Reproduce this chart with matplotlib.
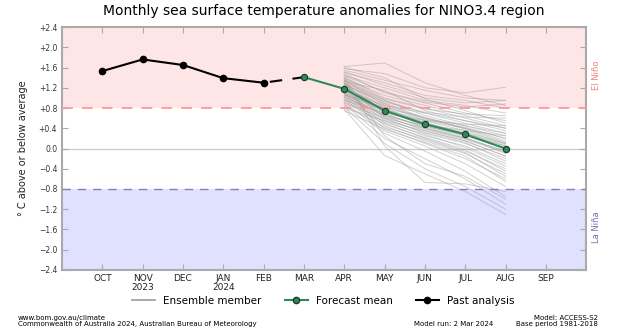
"""NINO3.4 monthly SST anomalies: past analysis, ensemble and forecast mean."""

import matplotlib

matplotlib.use("Agg")

import matplotlib.pyplot as plt
from matplotlib.lines import Line2D

months = ["OCT", "NOV\n2023", "DEC", "JAN\n2024", "FEB", "MAR",
          "APR", "MAY", "JUN", "JUL", "AUG", "SEP"]

past_months = [0, 1, 2, 3, 4]
past_values = [1.53, 1.76, 1.65, 1.39, 1.30]

forecast_months = [5, 6, 7, 8, 9, 10]
forecast_mean = [1.41, 1.18, 0.75, 0.48, 0.28, 0.00]

ensemble_months = [6, 7, 8, 9, 10]
# APR, MAY, JUN, JUL, AUG
ensemble = [
    [1.62, 1.69, 1.30, 1.05, 0.85],
    [1.58, 1.48, 1.20, 1.10, 1.21],
    [1.55, 1.35, 1.15, 1.00, 0.95],
    [1.50, 1.30, 1.05, 0.95, 0.80],
    [1.48, 1.10, 0.90, 0.70, 0.55],
    [1.45, 1.20, 0.95, 0.85, 0.70],
    [1.42, 1.00, 0.80, 0.60, 0.40],
    [1.40, 0.95, 0.70, 0.50, 0.30],
    [1.38, 1.05, 0.85, 0.65, 0.45],
    [1.36, 0.90, 0.60, 0.40, 0.15],
    [1.35, 0.85, 0.55, 0.35, 0.10],
    [1.33, 1.15, 0.75, 0.55, 0.35],
    [1.30, 0.80, 0.50, 0.30, 0.05],
    [1.30, 0.95, 0.65, 0.45, 0.25],
    [1.28, 0.70, 0.40, 0.20, -0.05],
    [1.27, 0.88, 0.58, 0.42, 0.20],
    [1.25, 0.75, 0.45, 0.25, 0.00],
    [1.24, 0.60, 0.30, 0.10, -0.20],
    [1.22, 0.82, 0.62, 0.38, 0.12],
    [1.20, 0.78, 0.52, 0.28, -0.02],
    [1.20, 0.65, 0.35, 0.15, -0.15],
    [1.18, 0.72, 0.48, 0.30, 0.08],
    [1.17, 0.55, 0.25, 0.05, -0.30],
    [1.15, 0.85, 0.70, 0.55, 0.40],
    [1.14, 0.68, 0.42, 0.22, -0.10],
    [1.12, 0.50, 0.20, -0.05, -0.40],
    [1.10, 0.74, 0.50, 0.32, 0.10],
    [1.10, 0.62, 0.38, 0.18, -0.08],
    [1.08, 0.45, 0.15, -0.10, -0.50],
    [1.06, 0.80, 0.60, 0.45, 0.30],
    [1.05, 0.58, 0.32, 0.12, -0.25],
    [1.03, 0.40, 0.10, -0.20, -0.60],
    [1.02, 0.66, 0.44, 0.26, 0.05],
    [1.00, 0.52, 0.28, 0.02, -0.35],
    [0.98, 0.35, 0.05, -0.30, -0.75],
    [0.96, 0.70, 0.55, 0.40, 0.20],
    [0.95, 0.48, 0.22, -0.02, -0.45],
    [0.92, 0.30, -0.05, -0.45, -0.95],
    [0.90, 0.60, 0.40, 0.20, -0.05],
    [0.88, 0.20, -0.20, -0.60, -1.10],
    [0.85, 0.42, 0.18, -0.08, -0.55],
    [0.82, 0.10, -0.40, -0.75, -1.20],
    [0.80, 0.55, 0.35, 0.15, -0.15],
    [0.78, -0.14, -0.50, -0.85, -1.30],
    [0.75, 0.38, 0.12, -0.15, -0.65],
    [1.40, 0.05, -0.67, -0.70, -0.85],
    [1.32, 0.25, -0.30, -0.55, -1.00],
    [1.52, 1.25, 1.00, 0.90, 0.95],
    [1.44, 1.12, 0.92, 0.82, 0.88],
    [1.26, 0.92, 0.72, 0.62, 0.60],
    [1.16, 0.76, 0.56, 0.48, 0.45],
    [1.60, 1.40, 0.98, 0.75, 0.50],
    [1.08, 0.64, 0.46, 0.36, 0.25],
    [1.34, 0.98, 0.78, 0.68, 0.65],
]

y_ticks = [2.4, 2.0, 1.6, 1.2, 0.8, 0.4, 0.0, -0.4, -0.8, -1.2, -1.6, -2.0, -2.4]
el_nino = 0.8
la_nina = -0.8

GREEN = "#2e8b57"
SPINE = "#aaaaaa"


def fmt(v):
    if abs(v) < 1e-9:
        return "0.0"
    return f"+{v:.1f}" if v > 0 else f"\u2212{abs(v):.1f}"


fig = plt.figure(figsize=(6.17, 3.30), dpi=100)
ax = fig.add_axes([0.1005, 0.182, 0.8495, 0.736])

ax.set_xlim(-1, 12)
ax.set_ylim(-2.4, 2.4)

ax.axhspan(el_nino, 2.4, color="#ffe6e6", zorder=0, lw=0)
ax.axhspan(-2.4, la_nina, color="#e0e0ff", zorder=0, lw=0)
ax.axhline(0, color="#cccccc", lw=1, zorder=1)
ax.axhline(el_nino, color="#ff9999", lw=1.3, ls=(0, (6, 5)), zorder=3)
ax.axhline(la_nina, color="#8080c0", lw=1.0, ls=(0, (6, 5)), zorder=3)

for member in ensemble:
    ax.plot(ensemble_months, member, color="#999999", lw=0.7, alpha=0.45, zorder=2)

ax.plot(forecast_months, forecast_mean, color=GREEN, lw=1.5, marker="o",
        markersize=4.5, markerfacecolor=GREEN, markeredgecolor="#1a3a28",
        markeredgewidth=0.8, zorder=5)
ax.plot(past_months, past_values, color="black", lw=1.5, marker="o",
        markersize=4.5, zorder=5)
ax.plot([past_months[-1], forecast_months[0]], [past_values[-1], forecast_mean[0]],
        color="black", lw=1.5, ls=(8, (6, 5)), zorder=4)

ax.set_xticks(range(len(months)))
ax.set_xticklabels(months, fontsize=6.5, color="#222222", linespacing=1.0)
ax.set_yticks(y_ticks)
ax.set_yticklabels([fmt(v) for v in y_ticks], fontsize=5.5, color="#333333")
ax.tick_params(axis="both", direction="in", length=4, width=0.8, color=SPINE,
               top=True, right=True)
ax.tick_params(axis="x", pad=3)
for side in ax.spines.values():
    side.set_color(SPINE)
    side.set_linewidth(1.5)

ax.set_ylabel("\u00b0 C above or below average", fontsize=7, color="#222222", labelpad=8)
ax.set_title("Monthly sea surface temperature anomalies for NINO3.4 region",
             fontsize=10, pad=9)

ax.text(12.25, 1.45, "El Ni\u00f1o", rotation=90, fontsize=6, color="#f08080",
        ha="center", va="center")
ax.text(12.25, -1.56, "La Ni\u00f1a", rotation=90, fontsize=6, color="#7070b0",
        ha="center", va="center")

handles = [
    Line2D([], [], color="#999999", lw=1.2),
    Line2D([], [], color=GREEN, lw=1.5, marker="o", markersize=4.5,
           markerfacecolor=GREEN, markeredgecolor="#1a3a28"),
    Line2D([], [], color="black", lw=1.5, marker="o", markersize=4.5),
]
fig.legend(handles, ["Ensemble member", "Forecast mean", "Past analysis"],
           loc="center", bbox_to_anchor=(0.524, 0.088), ncol=3, frameon=False,
           fontsize=7.5, handlelength=2.2, columnspacing=2.2)

fig.text(0.029, 0.027, "www.bom.gov.au/climate\nCommonwealth of Australia 2024, Australian Bureau of Meteorology",
         fontsize=5, va="center", ha="left", linespacing=1.0)
fig.text(0.799, 0.018, "Model run: 2 Mar 2024", fontsize=5, va="center", ha="right")
fig.text(0.969, 0.027, "Model: ACCESS-S2\nBase period 1981-2018", fontsize=5,
         va="center", ha="right", multialignment="right", linespacing=1.0)

fig.savefig("out.png", dpi=100)
